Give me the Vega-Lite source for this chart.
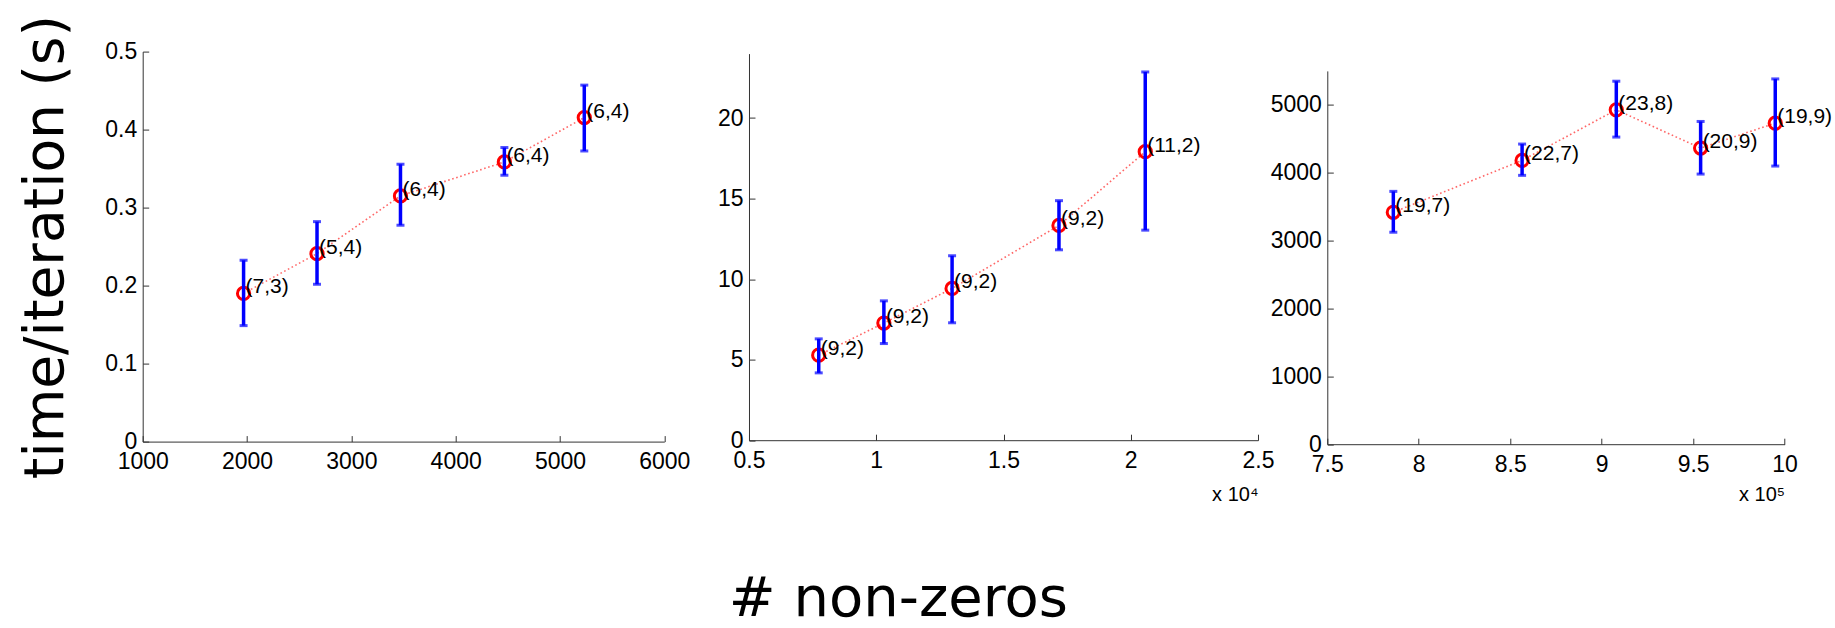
{
  "$schema": "https://vega.github.io/schema/vega-lite/v6.json",
  "background": "white",
  "padding": {"left": 17.7, "top": 13.6, "right": 0, "bottom": -8},
  "config": {
    "view": {"stroke": null},
    "axis": {
      "grid": false,
      "domainColor": "#333333",
      "domainWidth": 1,
      "tickColor": "#333333",
      "tickWidth": 1,
      "tickSize": -6,
      "labelFont": "Liberation Sans",
      "labelFontSize": 23,
      "labelColor": "#000000",
      "labelOverlap": false,
      "labelFlush": false,
      "labelBound": false
    },
    "axisY": {"labelPadding": 12},
    "axisX": {"labelPadding": 15}
  },
  "title": {
    "text": "# non-zeros",
    "orient": "bottom",
    "anchor": "middle",
    "font": "DejaVu Sans",
    "fontSize": 56,
    "fontWeight": "normal",
    "color": "#000000",
    "baseline": "alphabetic",
    "offset": 112,
    "dx": -27
  },
  "datasets": {
    "p1": [
      {"nnz": 1967, "t": 0.190, "lo": 0.1487, "hi": 0.2325, "label": "(7,3)"},
      {"nnz": 2671, "t": 0.241, "lo": 0.2017, "hi": 0.282, "label": "(5,4)"},
      {"nnz": 3471, "t": 0.315, "lo": 0.2774, "hi": 0.3556, "label": "(6,4)"},
      {"nnz": 4467, "t": 0.3585, "lo": 0.3415, "hi": 0.377, "label": "(6,4)"},
      {"nnz": 5233, "t": 0.4154, "lo": 0.3726, "hi": 0.457, "label": "(6,4)"}
    ],
    "p2": [
      {"nnz": 7740, "t": 5.28, "lo": 4.18, "hi": 6.29, "label": "(9,2)"},
      {"nnz": 10300, "t": 7.27, "lo": 6.0, "hi": 8.65, "label": "(9,2)"},
      {"nnz": 12980, "t": 9.42, "lo": 7.29, "hi": 11.45, "label": "(9,2)"},
      {"nnz": 17180, "t": 13.33, "lo": 11.82, "hi": 14.87, "label": "(9,2)"},
      {"nnz": 20570, "t": 17.91, "lo": 13.04, "hi": 22.86, "label": "(11,2)"}
    ],
    "p3": [
      {"nnz": 786100, "t": 3417, "lo": 3123, "hi": 3725, "label": "(19,7)"},
      {"nnz": 856500, "t": 4181, "lo": 3961, "hi": 4422, "label": "(22,7)"},
      {"nnz": 908000, "t": 4926, "lo": 4525, "hi": 5348, "label": "(23,8)"},
      {"nnz": 954100, "t": 4363, "lo": 3980, "hi": 4755, "label": "(20,9)"},
      {"nnz": 994900, "t": 4730, "lo": 4098, "hi": 5382, "label": "(19,9)"}
    ]
  },
  "spacing": 69.3,
  "bounds": "flush",
  "hconcat": [
    {
      "width": 536.7,
      "height": 390,
      "data": {"name": "p1"},
      "encoding": {
        "x": {"field": "nnz", "type": "quantitative",
          "scale": {"domain": [1000, 6000], "range": [0, 521.6], "nice": false, "zero": false},
          "axis": {"title": null, "values": [1000, 2000, 3000, 4000, 5000, 6000], "format": "d"}},
        "y": {"field": "t", "type": "quantitative", "title": "time/iteration (s)",
          "scale": {"domain": [0, 0.5], "nice": false, "zero": false},
          "axis": {"values": [0, 0.1, 0.2, 0.3, 0.4, 0.5], "format": "~g",
            "titleFont": "DejaVu Sans", "titleFontSize": 55, "titleFontWeight": "normal", "titleColor": "#000000",
            "titleX": -80, "titleY": 195, "titleAngle": -90, "titleBaseline": "alphabetic", "titleAlign": "center"}}
      },
      "layer": [
        {"mark": {"type": "line", "color": "#ff0000", "strokeWidth": 1.6, "strokeDash": [1.6, 2.6], "opacity": 0.6}},
        {"mark": {"type": "point", "shape": "circle", "filled": false, "color": "#ff0000", "strokeWidth": 3, "size": 150, "opacity": 1}},
        {"mark": {"type": "rule", "color": "#0000ff", "strokeWidth": 3.5},
          "encoding": {"y": {"field": "lo", "type": "quantitative", "title": "time/iteration (s)", "scale": {"domain": [0, 0.5], "nice": false, "zero": false},
            "axis": {"values": [0, 0.1, 0.2, 0.3, 0.4, 0.5], "format": "~g",
            "titleFont": "DejaVu Sans", "titleFontSize": 55, "titleFontWeight": "normal", "titleColor": "#000000",
            "titleX": -80, "titleY": 195, "titleAngle": -90, "titleBaseline": "alphabetic", "titleAlign": "center"}}, "y2": {"field": "hi"}}},
        {"mark": {"type": "tick", "orient": "horizontal", "color": "#0000ff", "size": 8, "thickness": 3},
          "encoding": {"y": {"field": "lo", "type": "quantitative", "title": "time/iteration (s)", "scale": {"domain": [0, 0.5], "nice": false, "zero": false},
            "axis": {"values": [0, 0.1, 0.2, 0.3, 0.4, 0.5], "format": "~g",
            "titleFont": "DejaVu Sans", "titleFontSize": 55, "titleFontWeight": "normal", "titleColor": "#000000",
            "titleX": -80, "titleY": 195, "titleAngle": -90, "titleBaseline": "alphabetic", "titleAlign": "center"}}}},
        {"mark": {"type": "tick", "orient": "horizontal", "color": "#0000ff", "size": 8, "thickness": 3},
          "encoding": {"y": {"field": "hi", "type": "quantitative", "title": "time/iteration (s)", "scale": {"domain": [0, 0.5], "nice": false, "zero": false},
            "axis": {"values": [0, 0.1, 0.2, 0.3, 0.4, 0.5], "format": "~g",
            "titleFont": "DejaVu Sans", "titleFontSize": 55, "titleFontWeight": "normal", "titleColor": "#000000",
            "titleX": -80, "titleY": 195, "titleAngle": -90, "titleBaseline": "alphabetic", "titleAlign": "center"}}}},
        {"mark": {"type": "text", "align": "left", "baseline": "middle", "dx": 2, "dy": -6, "font": "Liberation Sans", "fontSize": 21, "color": "#000000"},
          "encoding": {"text": {"field": "label"}}}
      ]
    },
    {
      "width": 509,
      "height": 388.6,
      "data": {"name": "p2"},
      "encoding": {
        "x": {"field": "nnz", "type": "quantitative",
          "scale": {"domain": [5000, 25000], "nice": false, "zero": false},
          "axis": {"title": "x 10⁴", "values": [5000, 10000, 15000, 20000, 25000], "labelExpr": "format(datum.value / 10000, '~g')",
            "titleFont": "Liberation Sans", "titleFontSize": 20, "titleFontWeight": "normal", "titleColor": "#000000",
            "titleX": 509, "titleY": 60, "titleAlign": "right", "titleBaseline": "alphabetic"}},
        "y": {"field": "t", "type": "quantitative", "title": null,
          "scale": {"domain": [0, 24], "range": [388.6, 2], "nice": false, "zero": false},
          "axis": {"values": [0, 5, 10, 15, 20], "format": "~g"}}
      },
      "layer": [
        {"mark": {"type": "line", "color": "#ff0000", "strokeWidth": 1.6, "strokeDash": [1.6, 2.6], "opacity": 0.6}},
        {"mark": {"type": "point", "shape": "circle", "filled": false, "color": "#ff0000", "strokeWidth": 3, "size": 150, "opacity": 1}},
        {"mark": {"type": "rule", "color": "#0000ff", "strokeWidth": 3.5},
          "encoding": {"y": {"field": "lo", "type": "quantitative", "title": null, "scale": {"domain": [0, 24], "range": [388.6, 2], "nice": false, "zero": false}, "axis": {"values": [0, 5, 10, 15, 20], "format": "~g"}}, "y2": {"field": "hi"}}},
        {"mark": {"type": "tick", "orient": "horizontal", "color": "#0000ff", "size": 8, "thickness": 3},
          "encoding": {"y": {"field": "lo", "type": "quantitative", "title": null, "scale": {"domain": [0, 24], "range": [388.6, 2], "nice": false, "zero": false}, "axis": {"values": [0, 5, 10, 15, 20], "format": "~g"}}}},
        {"mark": {"type": "tick", "orient": "horizontal", "color": "#0000ff", "size": 8, "thickness": 3},
          "encoding": {"y": {"field": "hi", "type": "quantitative", "title": null, "scale": {"domain": [0, 24], "range": [388.6, 2], "nice": false, "zero": false}, "axis": {"values": [0, 5, 10, 15, 20], "format": "~g"}}}},
        {"mark": {"type": "text", "align": "left", "baseline": "middle", "dx": 2, "dy": -6, "font": "Liberation Sans", "fontSize": 21, "color": "#000000"},
          "encoding": {"text": {"field": "label"}}}
      ]
    },
    {
      "width": 457.3,
      "height": 392.6,
      "data": {"name": "p3"},
      "encoding": {
        "x": {"field": "nnz", "type": "quantitative",
          "scale": {"domain": [750000, 1000000], "nice": false, "zero": false},
          "axis": {"title": "x 10⁵", "values": [750000, 800000, 850000, 900000, 950000, 1000000], "labelExpr": "format(datum.value / 100000, '~g')",
            "titleFont": "Liberation Sans", "titleFontSize": 20, "titleFontWeight": "normal", "titleColor": "#000000",
            "titleX": 457.3, "titleY": 56, "titleAlign": "right", "titleBaseline": "alphabetic"}},
        "y": {"field": "t", "type": "quantitative", "title": null,
          "scale": {"domain": [0, 5500], "range": [392.6, 19.3], "nice": false, "zero": false},
          "axis": {"values": [0, 1000, 2000, 3000, 4000, 5000], "format": "d"}}
      },
      "layer": [
        {"mark": {"type": "line", "color": "#ff0000", "strokeWidth": 1.6, "strokeDash": [1.6, 2.6], "opacity": 0.6}},
        {"mark": {"type": "point", "shape": "circle", "filled": false, "color": "#ff0000", "strokeWidth": 3, "size": 150, "opacity": 1}},
        {"mark": {"type": "rule", "color": "#0000ff", "strokeWidth": 3.5},
          "encoding": {"y": {"field": "lo", "type": "quantitative", "title": null, "scale": {"domain": [0, 5500], "range": [392.6, 19.3], "nice": false, "zero": false}, "axis": {"values": [0, 1000, 2000, 3000, 4000, 5000], "format": "d"}}, "y2": {"field": "hi"}}},
        {"mark": {"type": "tick", "orient": "horizontal", "color": "#0000ff", "size": 8, "thickness": 3},
          "encoding": {"y": {"field": "lo", "type": "quantitative", "title": null, "scale": {"domain": [0, 5500], "range": [392.6, 19.3], "nice": false, "zero": false}, "axis": {"values": [0, 1000, 2000, 3000, 4000, 5000], "format": "d"}}}},
        {"mark": {"type": "tick", "orient": "horizontal", "color": "#0000ff", "size": 8, "thickness": 3},
          "encoding": {"y": {"field": "hi", "type": "quantitative", "title": null, "scale": {"domain": [0, 5500], "range": [392.6, 19.3], "nice": false, "zero": false}, "axis": {"values": [0, 1000, 2000, 3000, 4000, 5000], "format": "d"}}}},
        {"mark": {"type": "text", "align": "left", "baseline": "middle", "dx": 2, "dy": -6, "font": "Liberation Sans", "fontSize": 21, "color": "#000000"},
          "encoding": {"text": {"field": "label"}}}
      ]
    }
  ]
}
